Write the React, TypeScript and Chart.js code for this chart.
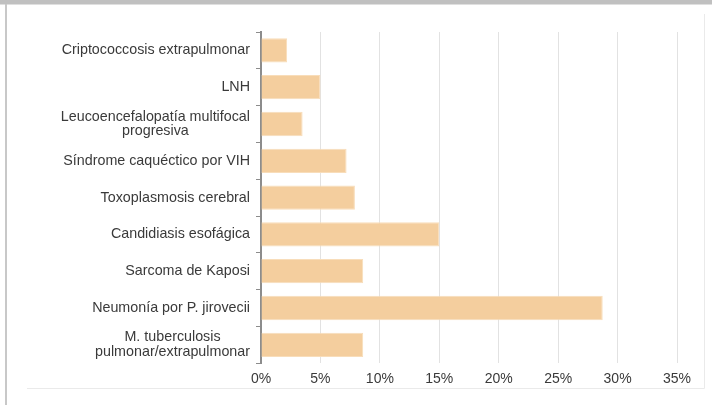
import React, { useEffect, useRef } from "react";
import { Chart, registerables } from "chart.js";

Chart.register(...registerables);

const categories: string[][] = [
  ["Criptococcosis extrapulmonar"],
  ["LNH"],
  ["Leucoencefalopatía multifocal", "progresiva"],
  ["Síndrome caquéctico por VIH"],
  ["Toxoplasmosis cerebral"],
  ["Candidiasis esofágica"],
  ["Sarcoma de Kaposi"],
  ["Neumonía por P. jirovecii"],
  ["M. tuberculosis", "pulmonar/extrapulmonar"],
];

const percentages: number[] = [2.2, 5.0, 3.5, 7.2, 7.9, 15.0, 8.6, 28.75, 8.6];

const xTicks: number[] = [0, 5, 10, 15, 20, 25, 30, 35];

const FONT = "'Liberation Sans', Arial, sans-serif";
const TEXT = "#3a3a3a";

const framePlugin = {
  id: "frame",
  beforeDraw(chart: any) {
    const ctx = chart.ctx;
    ctx.save();
    ctx.fillStyle = "#ffffff";
    ctx.fillRect(0, 0, chart.width, chart.height);
    ctx.fillStyle = "#c0c0c0";
    ctx.fillRect(0, 0, chart.width, 4.5);
    ctx.fillStyle = "#c8c8c8";
    ctx.fillRect(5, 4, 2, chart.height - 4);
    ctx.strokeStyle = "#eaeaea";
    ctx.lineWidth = 1;
    ctx.beginPath();
    ctx.moveTo(704.5, 14);
    ctx.lineTo(704.5, 388.5);
    ctx.moveTo(27, 388.5);
    ctx.lineTo(704.5, 388.5);
    ctx.stroke();
    ctx.restore();
  },
  afterDraw(chart: any) {
    const ctx = chart.ctx;
    const y = chart.scales.y;
    ctx.save();
    ctx.font = `14.3px ${FONT}`;
    ctx.fillStyle = TEXT;
    ctx.textAlign = "center";
    ctx.textBaseline = "middle";
    const right = 250;
    const lh = 14.5;
    categories.forEach((lines, i) => {
      const cy = y.getPixelForTick(i);
      const w = Math.max(...lines.map((l) => ctx.measureText(l).width));
      const cx = right - w / 2;
      lines.forEach((l, j) => {
        ctx.fillText(l, cx, cy + (j - (lines.length - 1) / 2) * lh);
      });
    });
    ctx.restore();
  },
};

export default function App() {
  const ref = useRef<HTMLCanvasElement | null>(null);
  useEffect(() => {
    document.body.style.margin = "0";
    const canvas = ref.current!;
    const chart = new Chart(canvas, {
      type: "bar",
      data: {
        labels: categories.map((c) => c.join(" ")),
        datasets: [
          {
            data: percentages,
            backgroundColor: "#F4CE9E",
            borderColor: "#F8DDBA",
            borderWidth: 1,
            barPercentage: 0.66,
            categoryPercentage: 1,
          },
        ],
      },
      options: {
        indexAxis: "y",
        animation: false,
        responsive: false,
        maintainAspectRatio: false,
        devicePixelRatio: 1,
        layout: { padding: { top: 32, right: 35, bottom: 9, left: 0 } },
        plugins: { legend: { display: false }, tooltip: { enabled: false } },
        scales: {
          x: {
            type: "linear",
            min: xTicks[0],
            max: xTicks[xTicks.length - 1],
            afterBuildTicks(scale: any) {
              scale.ticks = xTicks.map((v) => ({ value: v }));
            },
            grid: { color: "#e2e2e2", lineWidth: 1, drawTicks: false },
            border: { display: false },
            ticks: {
              padding: 8,
              color: TEXT,
              font: { family: FONT, size: 14 },
              callback: (v: any) => `${v}%`,
            },
          },
          y: {
            type: "category",
            grid: {
              display: true,
              drawOnChartArea: false,
              drawTicks: true,
              tickLength: 5,
              color: "#8c8c8c",
              offset: true,
            },
            border: { display: true, color: "#8c8c8c", width: 2 },
            ticks: { color: "rgba(0,0,0,0)", font: { family: FONT, size: 13 } },
            afterFit(scale: any) {
              scale.width = 261;
            },
          },
        },
      },
      plugins: [framePlugin],
    } as any);
    return () => chart.destroy();
  }, []);
  return (
    <div style={{ width: 712, height: 405 }}>
      <canvas ref={ref} width={712} height={405} style={{ display: "block" }} />
    </div>
  );
}
